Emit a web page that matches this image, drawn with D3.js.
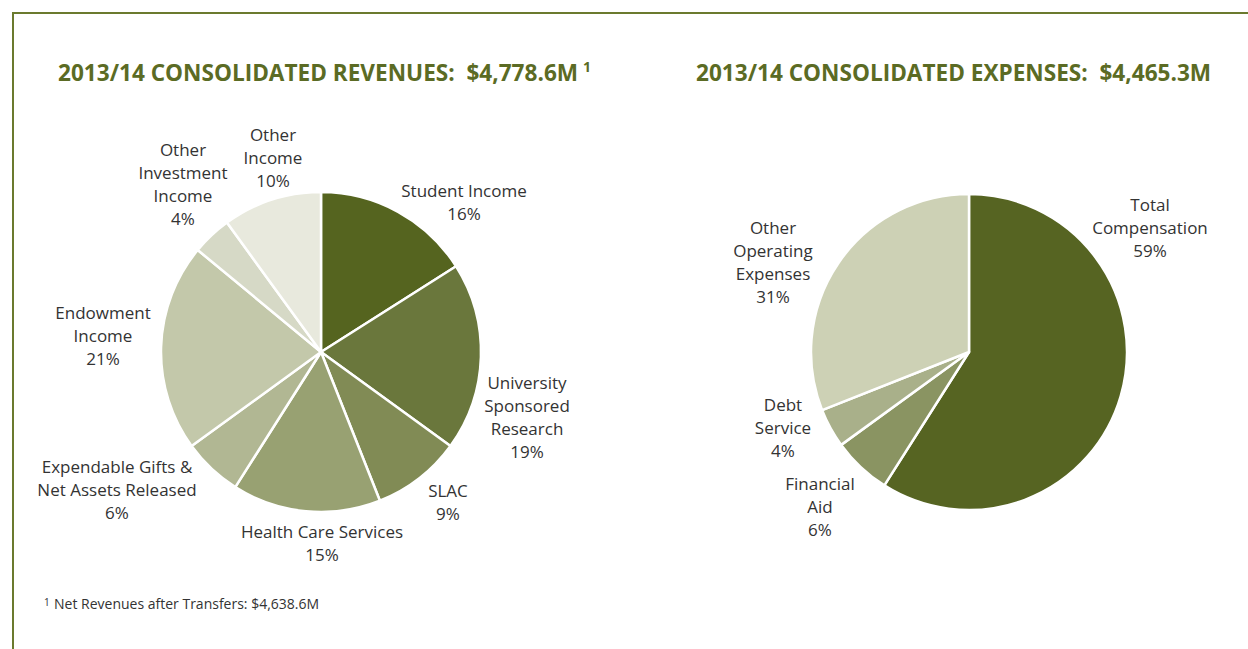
<!DOCTYPE html>
<html><head><meta charset="utf-8">
<script src="https://cdn.jsdelivr.net/npm/d3@7"></script>
<style>
html,body{margin:0;padding:0;background:#fff;}
svg text{font-family:"Open Sans",sans-serif;}
</style></head>
<body>
<svg id="chart" width="1248" height="649"></svg>
<script>
// ---- data ----
const revenueCategories = ["Student Income","University Sponsored Research","SLAC","Health Care Services","Expendable Gifts & Net Assets Released","Endowment Income","Other Investment Income","Other Income"];
const revenueValues = [16,19,9,15,6,21,4,10];
const revenueLabelLines = [["Student Income"],["University","Sponsored","Research"],["SLAC"],["Health Care Services"],["Expendable Gifts &","Net Assets Released"],["Endowment","Income"],["Other","Investment","Income"],["Other","Income"]];
const revenueColors = ["#55641f","#6a773c","#818b55","#98a172","#b1b793","#c3c8aa","#d6d9c6","#e8e9dd"];

const expenseCategories = ["Total Compensation","Financial Aid","Debt Service","Other Operating Expenses"];
const expenseValues = [59,6,4,31];
const expenseLabelLines = [["Total","Compensation"],["Financial","Aid"],["Debt","Service"],["Other","Operating","Expenses"]];
const expenseColors = ["#566422","#8a9462","#a9b08a","#cdd1b5"];

const revenueTitle = "2013/14 CONSOLIDATED REVENUES:\u00a0 $4,778.6M";
const expenseTitle = "2013/14 CONSOLIDATED EXPENSES:\u00a0 $4,465.3M";
const footnote = "Net Revenues after Transfers: $4,638.6M";

// ---- layout (label anchor = center x, first line y) ----
const revenueLabelPos = [[464,197],[527,389],[448,497],[322,538],[117,473],[103,319],[183,156],[273,141]];
const expenseLabelPos = [[1150,211],[820,490],[783,411],[773,234]];

const svg = d3.select("#chart");
const olive = "#5b6b24";

// frame
svg.append("path").attr("d","M13,649 L13,13 L1248,13")
  .attr("fill","none").attr("stroke","#6b7a2e").attr("stroke-width",2);

// titles
const t1 = svg.append("text").attr("x",58).attr("y",81)
  .attr("fill",olive).attr("font-weight","bold").attr("font-size",22.6)
  .text(revenueTitle);
const w1 = t1.node().getComputedTextLength();
svg.append("text").attr("x",58+w1+5).attr("y",72)
  .attr("fill",olive).attr("font-weight","bold").attr("font-size",14)
  .text("1");
svg.append("text").attr("x",696).attr("y",81)
  .attr("fill",olive).attr("font-weight","bold").attr("font-size",22.6)
  .text(expenseTitle);

function drawPie(cx, cy, r, values, colors, lines, pos){
  const pie = d3.pie().sort(null).value(d=>d);
  const arc = d3.arc().innerRadius(0).outerRadius(r);
  const g = svg.append("g").attr("transform",`translate(${cx},${cy})`);
  g.selectAll("path").data(pie(values)).join("path")
    .attr("d",arc).attr("fill",(d,i)=>colors[i])
    .attr("stroke","#fff").attr("stroke-width",2.5).attr("stroke-linejoin","round");
  values.forEach((v,i)=>{
    const ls = lines[i].concat([v+"%"]);
    const t = svg.append("text").attr("text-anchor","middle")
      .attr("fill","#333").attr("font-size",17);
    ls.forEach((s,k)=>{
      t.append("tspan").attr("x",pos[i][0]).attr("y",pos[i][1]+k*23).text(s);
    });
  });
}
drawPie(321,352,160,revenueValues,revenueColors,revenueLabelLines,revenueLabelPos);
drawPie(969,352,158,expenseValues,expenseColors,expenseLabelLines,expenseLabelPos);

// footnote
svg.append("text").attr("x",44).attr("y",606).attr("fill","#333").attr("font-size",10).text("1");
svg.append("text").attr("x",54).attr("y",609).attr("fill","#333").attr("font-size",14).text(footnote);
</script>
</body></html>
